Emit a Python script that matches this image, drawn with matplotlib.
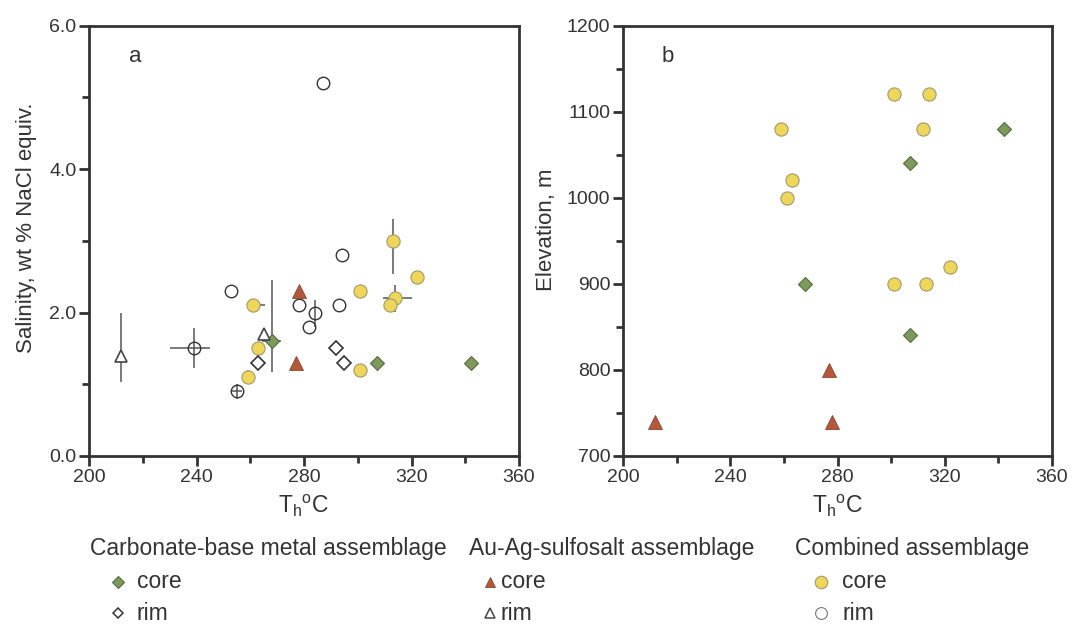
import matplotlib
matplotlib.use("Agg")
import matplotlib.pyplot as plt
from matplotlib.ticker import MultipleLocator, FormatStrFormatter
from matplotlib.lines import Line2D

plt.rcParams['font.family'] = ['Liberation Sans', 'DejaVu Sans']

# ---------------- Data ----------------
# Panel a: Th (°C) vs salinity (wt % NaCl equiv.)
cb_core_T = [268, 307, 342]
cb_core_S = [1.6, 1.3, 1.3]
cb_rim_T = [263, 292, 295]
cb_rim_S = [1.3, 1.5, 1.3]
au_core_T = [278, 277]
au_core_S = [2.3, 1.3]
au_rim_T = [212, 265]
au_rim_S = [1.4, 1.7]
cm_core_T = [261, 263, 259, 313, 322, 301, 314, 312, 301]
cm_core_S = [2.1, 1.5, 1.1, 3.0, 2.5, 2.3, 2.2, 2.1, 1.2]
cm_rim_T = [253, 239, 255, 294, 278, 284, 282, 293, 287]
cm_rim_S = [2.3, 1.5, 0.9, 2.8, 2.1, 2.0, 1.8, 2.1, 5.2]

# error bars
err_T = [268, 212, 239, 255, 261, 259, 313, 314, 284]
err_S = [1.6, 1.4, 1.5, 0.9, 2.1, 1.1, 3.0, 2.2, 2.0]
err_xlo = [3.5, 0.0, 9.0, 1.8, 0.0, 0.0, 0.0, 4.5, 0.0]
err_xhi = [3.5, 0.0, 6.0, 1.8, 4.5, 2.0, 0.0, 6.0, 0.0]
err_ylo = [0.43, 0.37, 0.28, 0.1, 0.0, 0.0, 0.47, 0.19, 0.2]
err_yhi = [0.85, 0.60, 0.28, 0.1, 0.0, 0.1, 0.30, 0.19, 0.17]

# Panel b: Th (°C) vs elevation (m)
b_cb_core_T = [342, 307, 268, 307]
b_cb_core_E = [1080, 1040, 900, 840]
b_au_core_T = [277, 212, 278]
b_au_core_E = [800, 740, 740]
b_cm_core_T = [301, 314, 259, 312, 263, 261, 322, 301, 313]
b_cm_core_E = [1120, 1120, 1080, 1080, 1020, 1000, 920, 900, 900]

headers = ['Carbonate-base metal assemblage', 'Au-Ag-sulfosalt assemblage', 'Combined assemblage']

# ---------------- Styles ----------------
GREEN = '#7d9a5c'
RED = '#b4583b'
YELLOW = '#eed65a'
SPINE = '#333333'
TXT = '#333333'

fig = plt.figure(figsize=(10.74, 6.24), dpi=100)
ax_a = fig.add_axes([89/1074, 1-456/624, 430/1074, 430.5/624])
ax_b = fig.add_axes([623/1074, 1-456/624, 429/1074, 430.5/624])

def style(ax):
    for s in ax.spines.values():
        s.set_linewidth(2.0)
        s.set_color(SPINE)
    ax.tick_params(which='major', direction='out', length=7, width=2.0, color=SPINE,
                   labelsize=14, labelcolor=TXT, pad=2)
    ax.tick_params(which='minor', direction='out', length=5, width=2.0, color=SPINE)
    ax.tick_params(top=False, right=False)
    ax.set_xlim(200, 360)
    ax.xaxis.set_major_locator(MultipleLocator(40))
    ax.xaxis.set_minor_locator(MultipleLocator(20))
    ax.set_xlabel(r'T$_\mathregular{h}$$^\mathregular{o}$C', fontsize=16.5, color=TXT)
    ax.xaxis.set_label_coords(0.5, -0.085)

core_kw = dict(linestyle='none', zorder=3)

# ---- Panel a ----
style(ax_a)
ax_a.set_ylim(0, 6)
ax_a.yaxis.set_major_locator(MultipleLocator(2))
ax_a.yaxis.set_minor_locator(MultipleLocator(1))
ax_a.yaxis.set_major_formatter(FormatStrFormatter('%.1f'))
ax_a.set_ylabel('Salinity, wt % NaCl equiv.', fontsize=16, color=TXT)
ax_a.yaxis.set_label_coords(-0.122, 0.53)

ax_a.errorbar(err_T, err_S, xerr=[err_xlo, err_xhi], yerr=[err_ylo, err_yhi],
              fmt='none', ecolor='#555555', elinewidth=1.1, capsize=0, zorder=2)

ax_a.plot(cm_rim_T, cm_rim_S, marker='o', ms=9, mfc='none', mec='#333333', mew=1.0, **core_kw)
ax_a.plot(cm_core_T, cm_core_S, marker='o', ms=9.5, mfc=YELLOW, mec='#a09a70', mew=0.8, **core_kw)
ax_a.plot(cb_rim_T, cb_rim_S, marker='D', ms=7, mfc='white', mec='#333333', mew=1.2, **core_kw)
ax_a.plot(cb_core_T, cb_core_S, marker='D', ms=7.5, mfc=GREEN, mec='#556b40', mew=0.8, **core_kw)
ax_a.plot(au_rim_T, au_rim_S, marker='^', ms=9, mfc='white', mec='#444444', mew=1.2, **core_kw)
ax_a.plot(au_core_T, au_core_S, marker='^', ms=9.5, mfc=RED, mec='#8a4530', mew=0.6, **core_kw)
ax_a.text((135-89)/430, (456-57)/430.5, 'a', transform=ax_a.transAxes, fontsize=16,
          color=TXT, va='center', ha='center')

# ---- Panel b ----
style(ax_b)
ax_b.set_ylim(700, 1200)
ax_b.yaxis.set_major_locator(MultipleLocator(100))
ax_b.yaxis.set_minor_locator(MultipleLocator(50))
ax_b.set_ylabel('Elevation, m', fontsize=16, color=TXT)
ax_b.yaxis.set_label_coords(-0.155, 0.525)
ax_b.plot(b_cm_core_T, b_cm_core_E, marker='o', ms=9.5, mfc=YELLOW, mec='#a09a70', mew=0.8, **core_kw)
ax_b.plot(b_cb_core_T, b_cb_core_E, marker='D', ms=7.5, mfc=GREEN, mec='#556b40', mew=0.8, **core_kw)
ax_b.plot(b_au_core_T, b_au_core_E, marker='^', ms=9.5, mfc=RED, mec='#8a4530', mew=0.6, **core_kw)
ax_b.text((668-623)/429, (456-57)/430.5, 'b', transform=ax_b.transAxes, fontsize=16,
          color=TXT, va='center', ha='center')

# ---- Legend (bottom) ----
def fx(px):
    return px/1074
def fy(py):
    return 1 - py/624

head_x = [90, 469, 795]
for h, x in zip(headers, head_x):
    fig.text(fx(x), fy(549), h, fontsize=16.5, color=TXT, va='center', ha='left')

legend_items = [
    (118, 'D', GREEN, '#556b40', 6, 0.8, 'core', 582, 19),
    (118, 'D', 'white', '#333333', 5.5, 1.1, 'rim', 613, 19),
    (490, '^', RED, '#8a4530', 7, 0.6, 'core', 582, 11),
    (490, '^', 'white', '#444444', 6.5, 1.1, 'rim', 613, 11),
    (821, 'o', YELLOW, '#a09a70', 9, 0.8, 'core', 582, 21),
    (821, 'o', 'white', '#777777', 8.5, 0.8, 'rim', 613, 21),
]
for x, m, fc, ec, ms, mew, lab, y, off in legend_items:
    fig.lines.append(Line2D([fx(x)], [fy(y)], marker=m, ms=ms, mfc=fc, mec=ec,
                            mew=mew, linestyle='none', transform=fig.transFigure))
    fig.text(fx(x + off), fy(y), lab, fontsize=16.5, color=TXT, va='center', ha='left')

fig.savefig('out.png', dpi=100)
